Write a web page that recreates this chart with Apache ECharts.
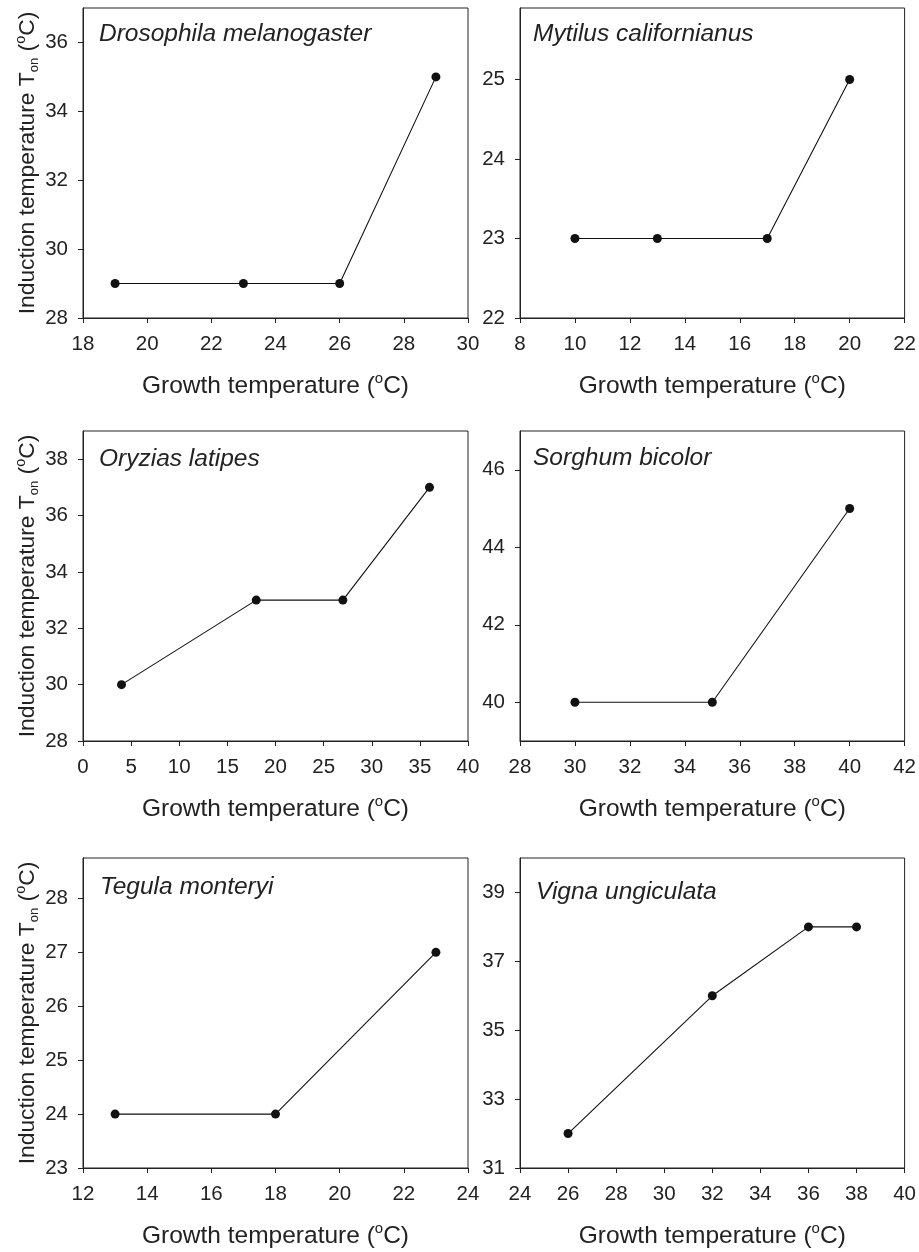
<!DOCTYPE html>
<html>
  <head>
    <meta charset="UTF-8" />
    <title>Induction temperature vs growth temperature</title>
    <style>
      html, body { margin: 0; padding: 0; background: #fff; }
      #chart { width: 919px; height: 1252px; }
    </style>
    <script type="text/javascript" src="https://cdn.jsdelivr.net/npm/echarts@6/dist/echarts.min.js"></script>
  </head>
  <body>
    <div id="chart"></div>
    <script>
      // species names
      var species = [
        "Drosophila melanogaster",
        "Mytilus californianus",
        "Oryzias latipes",
        "Sorghum bicolor",
        "Tegula monteryi",
        "Vigna ungiculata"
      ];

      // growth temperature (x) and induction temperature (y) per panel
      var drosophilaX = [19, 23, 26, 29];
      var drosophilaY = [29, 29, 29, 35];
      var mytilusX = [10, 13, 17, 20];
      var mytilusY = [23, 23, 23, 25];
      var oryziasX = [4, 18, 27, 36];
      var oryziasY = [30, 33, 33, 37];
      var sorghumX = [30, 35, 40];
      var sorghumY = [40, 40, 45];
      var tegulaX = [13, 18, 23];
      var tegulaY = [24, 24, 27];
      var vignaX = [26, 32, 36, 38];
      var vignaY = [32, 36, 38, 38];

      // axis ranges and tick labels
      var xMin = [18, 8, 0, 28, 12, 24];
      var xMax = [30, 22, 40, 42, 24, 40];
      var xStep = [2, 2, 5, 2, 2, 2];
      var yMin = [28, 22, 28, 39, 23, 31];
      var yMax = [37, 25.9, 39, 47, 28.75, 40];
      var yTicks1 = [28, 30, 32, 34, 36];
      var yTicks2 = [22, 23, 24, 25];
      var yTicks3 = [28, 30, 32, 34, 36, 38];
      var yTicks4 = [40, 42, 44, 46];
      var yTicks5 = [23, 24, 25, 26, 27, 28];
      var yTicks6 = [31, 33, 35, 37, 39];

      var xs = [drosophilaX, mytilusX, oryziasX, sorghumX, tegulaX, vignaX];
      var ys = [drosophilaY, mytilusY, oryziasY, sorghumY, tegulaY, vignaY];
      var yTicks = [yTicks1, yTicks2, yTicks3, yTicks4, yTicks5, yTicks6];

      var FONT = "'Liberation Sans', Arial, Helvetica, sans-serif";
      var INK = "#222";

      var lefts = [83, 520];
      var tops = [8, 431, 858];
      var labelPos = [
        [99, 34], [533, 34],
        [99, 459], [533, 458],
        [100, 887], [536, 892]
      ];

      var myChart = echarts.init(document.getElementById("chart"));

      var grids = [], xAxes = [], yAxes = [], series = [], graphics = [];

      for (var i = 0; i < 6; i++) {
        var col = i % 2, row = Math.floor(i / 2);
        grids.push({
          left: lefts[col],
          top: tops[row],
          width: 385,
          height: row === 2 ? 311 : 310,
          show: true,
          borderColor: INK,
          borderWidth: 1,
          backgroundColor: "transparent"
        });

        xAxes.push({
          type: "value",
          gridIndex: i,
          min: xMin[i],
          max: xMax[i],
          interval: xStep[i],
          splitLine: { show: false },
          axisLine: { show: true, onZero: false, lineStyle: { color: INK, width: 1 } },
          axisTick: { show: true, inside: false, length: 5, lineStyle: { color: INK } },
          axisLabel: { color: INK, fontSize: 20.5, fontFamily: FONT, margin: 16 },
          name: "Growth temperature ({sup|o}C)",
          nameLocation: "middle",
          nameGap: 53,
          nameTextStyle: {
            color: INK,
            fontSize: 24.5,
            fontFamily: FONT,
            lineHeight: 30,
            rich: {
              sup: { fontSize: 15, fontFamily: FONT, color: INK, verticalAlign: "top", lineHeight: 18 }
            }
          }
        });

        var yAxis = {
          type: "value",
          gridIndex: i,
          min: yMin[i],
          max: yMax[i],
          splitLine: { show: false },
          axisLine: { show: true, onZero: false, lineStyle: { color: INK, width: 1 } },
          axisTick: { show: true, inside: false, length: 5, lineStyle: { color: INK }, customValues: yTicks[i] },
          axisLabel: { color: INK, fontSize: 20.5, fontFamily: FONT, margin: 15, customValues: yTicks[i] }
        };
        if (col === 0) {
          yAxis.name = "Induction temperature T{sub|on} ({sup|o}C)";
          yAxis.nameLocation = "middle";
          yAxis.nameGap = 40;
          yAxis.nameTextStyle = {
            color: INK,
            fontSize: 22.8,
            fontFamily: FONT,
            lineHeight: 28,
            rich: {
              sub: { fontSize: 13, fontFamily: FONT, color: INK, verticalAlign: "bottom", lineHeight: 14 },
              sup: { fontSize: 14.5, fontFamily: FONT, color: INK, verticalAlign: "top", lineHeight: 16 }
            }
          };
        }
        yAxes.push(yAxis);

        var pts = [];
        for (var k = 0; k < xs[i].length; k++) pts.push([xs[i][k], ys[i][k]]);
        series.push({
          type: "line",
          xAxisIndex: i,
          yAxisIndex: i,
          data: pts,
          symbol: "circle",
          symbolSize: 9,
          showAllSymbol: true,
          lineStyle: { color: "#111", width: 1.1 },
          itemStyle: { color: "#111" },
          animation: false
        });

        graphics.push({
          type: "text",
          x: labelPos[i][0],
          y: labelPos[i][1],
          style: {
            text: species[i],
            fontSize: 24.5,
            fontStyle: "italic",
            fontFamily: FONT,
            fill: INK,
            verticalAlign: "middle"
          }
        });
      }

      var option = {
        backgroundColor: "#fff",
        animation: false,
        grid: grids,
        xAxis: xAxes,
        yAxis: yAxes,
        series: series,
        graphic: graphics
      };

      myChart.setOption(option);
    </script>
  </body>
</html>
